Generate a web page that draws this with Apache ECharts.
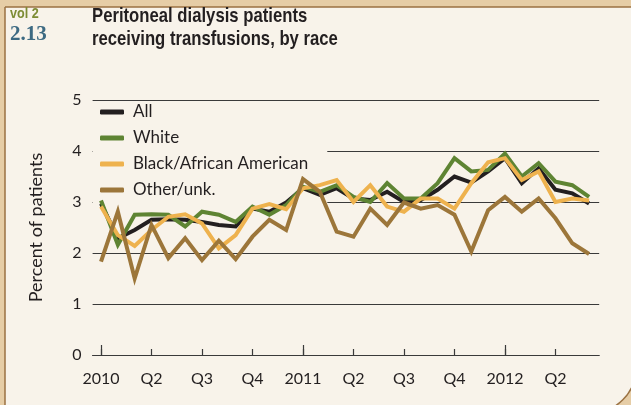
<!DOCTYPE html>
<html>
<head>
<meta charset="utf-8">
<script src="https://cdn.jsdelivr.net/npm/echarts@6/dist/echarts.min.js"></script>
<style>
html,body{margin:0;padding:0;background:#e6cda6;}
#chart{width:631px;height:405px;}
</style>
</head>
<body>
<div id="chart"></div>
<script>
// Months Jan 2010 .. Jun 2012 (index 0..29)
const months = ['2010-01','2010-02','2010-03','2010-04','2010-05','2010-06','2010-07','2010-08','2010-09','2010-10','2010-11','2010-12',
                '2011-01','2011-02','2011-03','2011-04','2011-05','2011-06','2011-07','2011-08','2011-09','2011-10','2011-11','2011-12',
                '2012-01','2012-02','2012-03','2012-04','2012-05','2012-06'];
const tickLabels = ['2010','Q2','Q3','Q4','2011','Q2','Q3','Q4','2012','Q2'];
const yTicks = [0,1,2,3,4,5];

const allValues   = [2.97,2.29,2.45,2.65,2.66,2.65,2.61,2.55,2.52,2.87,2.81,2.99,3.27,3.14,3.27,3.07,3.04,3.20,3.00,3.04,3.24,3.50,3.38,3.60,3.86,3.37,3.66,3.24,3.17,2.97];
const whiteValues = [3.03,2.16,2.75,2.76,2.75,2.52,2.81,2.75,2.61,2.91,2.75,2.94,3.30,3.20,3.33,3.10,3.00,3.37,3.07,3.07,3.37,3.86,3.60,3.63,3.95,3.50,3.76,3.40,3.33,3.10];
const blackValues = [2.91,2.35,2.14,2.45,2.71,2.76,2.58,2.09,2.35,2.87,2.96,2.86,3.27,3.33,3.43,3.00,3.33,2.91,2.81,3.07,3.07,2.87,3.37,3.78,3.86,3.43,3.60,3.00,3.07,3.03];
const otherValues = [1.83,2.81,1.50,2.55,1.90,2.29,1.86,2.24,1.88,2.32,2.65,2.45,3.45,3.20,2.42,2.32,2.87,2.55,2.99,2.87,2.94,2.75,2.03,2.84,3.10,2.81,3.07,2.68,2.19,1.98];

const seriesNames = ['All','White','Black/African American','Other/unk.'];
const seriesColors = ['#231f20','#5e8433','#eeb24e','#9c763a'];
const seriesValues = [allValues, whiteValues, blackValues, otherValues];

const quarterTicks = tickLabels.map((_, i) => i * 3);
const yearTicks = [0, 12, 24];

const font = 'Lato, "Open Sans", sans-serif';
const chart = echarts.init(document.getElementById('chart'), null, {renderer: 'canvas'});

const option = {
  backgroundColor: 'transparent',
  animation: false,
  graphic: [
    {type: 'rect', z: -100,
     shape: {x: 5, y: 7, width: 631, height: 406, r: [0, 0, 45, 0]},
     style: {fill: '#f8f3ea', stroke: '#9b7243', lineWidth: 1.5}},
    {type: 'text', x: 10, y: 7, scaleX: 0.9, z: 10,
     style: {text: 'vol 2', font: 'bold 14px "Liberation Sans", sans-serif', fill: '#7d8c34', textVerticalAlign: 'top'}},
    {type: 'text', x: 10, y: 24, z: 10,
     style: {text: '2.13', font: 'bold 21px "Liberation Serif", serif', fill: '#3d6a82', textVerticalAlign: 'top'}},
    {type: 'text', x: 92, y: 5, scaleX: 0.795, z: 10,
     style: {text: 'Peritoneal dialysis patients\nreceiving transfusions, by race',
             font: 'bold 21px "Liberation Sans", sans-serif', lineHeight: 23, fill: '#231f20', textVerticalAlign: 'top'}}
  ],
  legend: {
    orient: 'vertical', left: 93, top: 102, z: 1,
    padding: [1, 19, 4, 7],
    backgroundColor: '#f8f3ea',
    itemWidth: 24, itemHeight: 5, itemGap: 8,
    icon: 'roundRect',
    textStyle: {fontSize: 17, lineHeight: 18, color: '#231f20', fontFamily: font, padding: [0, 0, 0, 4]},
    data: seriesNames
  },
  grid: {left: 92.6, top: 100, width: 506.6, height: 255, containLabel: false},
  xAxis: [
    {type: 'value', min: -0.5, max: 29.6, position: 'bottom',
     axisLine: {show: true, lineStyle: {color: '#3a3a3a', width: 1.2}},
     axisTick: {show: true, inside: true, length: 6, customValues: quarterTicks, lineStyle: {color: '#3a3a3a', width: 1.2}},
     axisLabel: {show: true, customValues: quarterTicks, margin: 16, fontSize: 16, color: '#231f20', fontFamily: font,
                 formatter: v => tickLabels[Math.round(v / 3)]},
     splitLine: {show: false}},
    {type: 'value', min: -0.5, max: 29.6, position: 'bottom',
     axisLine: {show: false},
     axisTick: {show: true, inside: true, length: 10, customValues: yearTicks, lineStyle: {color: '#3a3a3a', width: 1.2}},
     axisLabel: {show: false},
     splitLine: {show: false}}
  ],
  yAxis: {
    type: 'value', min: 0, max: 5, interval: 1,
    name: 'Percent of patients', nameLocation: 'middle', nameGap: 47,
    nameTextStyle: {fontSize: 18, color: '#231f20', fontFamily: font},
    axisLine: {show: false}, axisTick: {show: false},
    axisLabel: {margin: 11, fontSize: 16, color: '#231f20', fontFamily: font,
                formatter: v => yTicks.includes(v) ? String(v) : ''},
    splitLine: {show: true, lineStyle: {color: '#3a3a3a', width: 1}}
  },
  series: seriesNames.map((name, k) => ({
    name, type: 'line', xAxisIndex: 0, z: 2,
    showSymbol: false, symbol: 'none',
    color: seriesColors[k],
    lineStyle: {width: 4, color: seriesColors[k], join: 'miter'},
    data: seriesValues[k].map((v, i) => [i, v])
  }))
};
chart.setOption(option);
</script>
</body>
</html>
